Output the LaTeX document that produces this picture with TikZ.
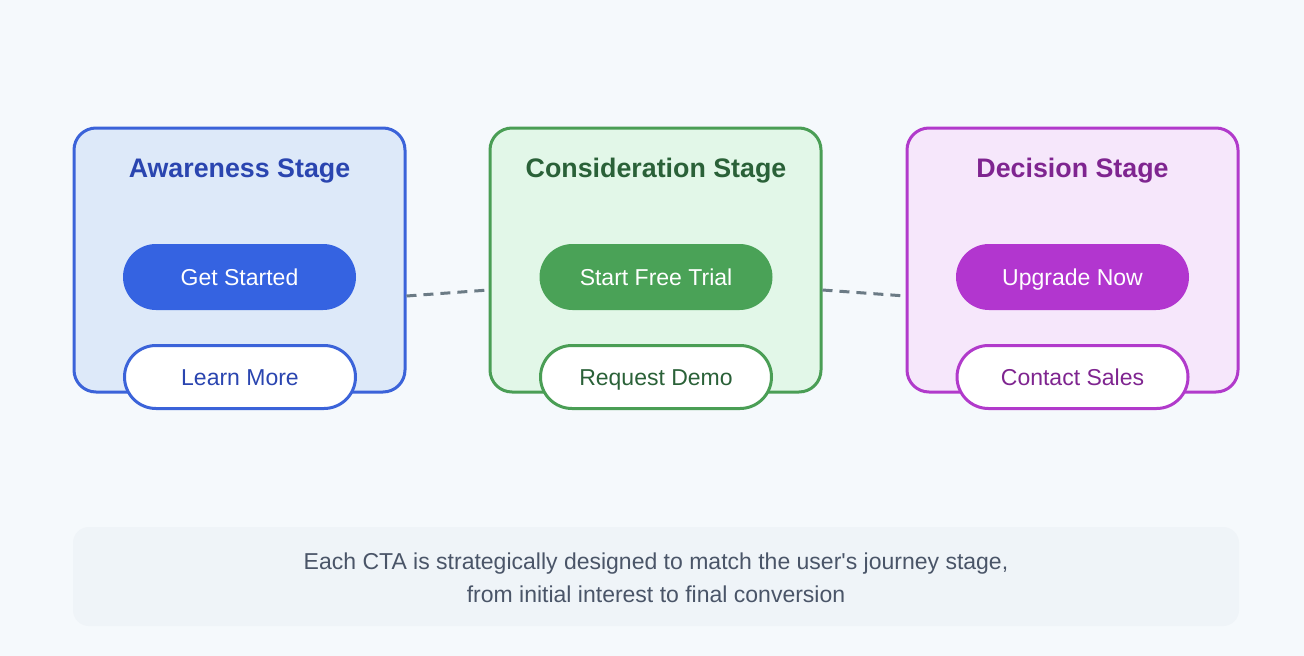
\documentclass[tikz,border=0pt]{standalone}
\usepackage{fontspec}
\setmainfont[Ligatures=ResetAll]{Liberation Sans}
\newcommand{\straightq}{\XeTeXglyph\XeTeXcharglyph"0027\relax}
\definecolor{bg}{HTML}{F5F9FC}
\definecolor{noteBg}{HTML}{EFF4F8}
\definecolor{noteTxt}{HTML}{4A5568}
\definecolor{dashc}{HTML}{6B7B85}
\definecolor{bStroke}{HTML}{3B63D9}
\definecolor{bFill}{HTML}{DDE9F9}
\definecolor{bTitle}{HTML}{2A45B0}
\definecolor{bBtn}{HTML}{3563E1}
\definecolor{gStroke}{HTML}{4A9E55}
\definecolor{gFill}{HTML}{E2F7E8}
\definecolor{gTitle}{HTML}{2A6138}
\definecolor{gBtn}{HTML}{4AA257}
\definecolor{pStroke}{HTML}{B13ACB}
\definecolor{pFill}{HTML}{F6E7FB}
\definecolor{pTitle}{HTML}{7F2590}
\definecolor{pBtn}{HTML}{B236CF}
\tikzset{
  stagebox/.style={draw=#1, line width=3pt, rounded corners=22pt,
    minimum width=331pt, minimum height=264pt, inner sep=0pt},
  stagetitle/.style={text=#1, font=\fontsize{26.8}{30}\selectfont\bfseries, inner sep=0pt,
    text height=19pt, text depth=0pt},
  primbtn/.style={fill=#1, rounded corners=33pt, minimum width=233pt, minimum height=66pt,
    inner sep=0pt, text=white, font=\fontsize{23}{27}\selectfont, text height=17pt, text depth=0pt},
  secbtn/.style={draw=#1, fill=white, line width=3pt, rounded corners=31.5pt,
    minimum width=231pt, minimum height=63pt, inner sep=0pt, font=\fontsize{23}{27}\selectfont,
    text height=17pt, text depth=0pt},
  flowdash/.style={draw=dashc, line width=3pt, dash pattern=on 10pt off 7pt},
}
\begin{document}
\begin{tikzpicture}[x=1pt,y=-1pt]
\path[fill=bg, use as bounding box] (0,0) rectangle (1304,656);

% stage boxes
\node[stagebox=bStroke, fill=bFill] (aw) at (239.5,260) {};
\node[stagebox=gStroke, fill=gFill] (co) at (655.5,260) {};
\node[stagebox=pStroke, fill=pFill] (de) at (1072.5,260) {};

% connectors
\draw[flowdash] ([yshift=-36pt]aw.east) -- ([yshift=-30pt]co.west);
\draw[flowdash] ([yshift=-30pt]co.east) -- ([yshift=-36pt]de.west);

% titles
\node[stagetitle=bTitle] (awt) at (239.5,168) {Awareness Stage};
\node[stagetitle=gTitle] (cot) at (656,168) {Consideration Stage};
\node[stagetitle=pTitle] (det) at (1072.5,168) {Decision Stage};

% primary buttons
\node[primbtn=bBtn] (awp) at (239.5,277) {Get Started};
\node[primbtn=gBtn] (cop) at (656,277) {Start Free Trial};
\node[primbtn=pBtn] (dep) at (1072.5,277) {Upgrade Now};

% secondary buttons
\node[secbtn=bStroke, text=bTitle] (aws) at (240,377) {Learn More};
\node[secbtn=gStroke, text=gTitle] (cos) at (656,377) {Request Demo};
\node[secbtn=pStroke, text=pTitle] (des) at (1072.5,377) {Contact Sales};

% note
\node[fill=noteBg, rounded corners=16pt, minimum width=1166pt, minimum height=99pt,
  inner sep=0pt] (note) at (656,576.5) {};
\node[text=noteTxt, font=\fontsize{23}{33}\selectfont, align=center, inner sep=0pt]
  (notetxt) at (656,578) {Each CTA is strategically designed to match the user\straightq s journey stage,\\from initial interest to final conversion};
\end{tikzpicture}
\end{document}
